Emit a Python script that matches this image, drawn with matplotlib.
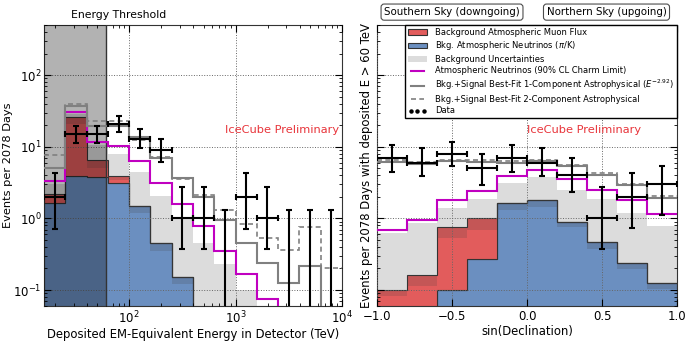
import numpy as np
import matplotlib
matplotlib.use('Agg')
from matplotlib import pyplot as plt
from matplotlib.patches import Patch
from matplotlib.lines import Line2D
import matplotlib.transforms as mtransforms

# ---- left panel: deposited energy, 0.2 decade bins from 10^1.2 to 10^4 TeV
log_edges = [1.2, 1.4, 1.6, 1.8, 2.0, 2.2, 2.4, 2.6, 2.8, 3.0, 3.2, 3.4, 3.6, 3.8, 4.0]
e_blue = [1.65, 3.9, 3.8, 3.1, 1.5, 0.45, 0.15, 0, 0, 0, 0, 0, 0, 0]
e_muon = [0.55, 21.8, 2.8, 0.8, 0, 0, 0, 0, 0, 0, 0, 0, 0, 0]
e_band_lo = [1.9, 21, 5.0, 3.4, 1.2, 0.35, 0.12, 0, 0, 0, 0, 0, 0, 0]
e_band_hi = [3.0, 29, 10.5, 8.0, 4.4, 2.05, 1.0, 0.46, 0.23, 0.1, 0, 0, 0, 0]
e_charm = [3.3, 31, 11.8, 10.1, 6.3, 3.1, 1.57, 0.78, 0.35, 0.17, 0.075, 0, 0, 0]
e_fit1 = [5.0, 37, 19.8, 19.6, 13.8, 7.0, 3.7, 2.0, 0.95, 0.46, 0.24, 0.127, 0.22, 0]
e_fit2 = [7.7, 40, 23, 23, 12.6, 7.2, 3.6, 2.15, 1.33, 0.83, 0.54, 0.36, 0.77, 0.2]
e_data = [2, 15, 15, 21, 13, 9, 1, 1, 0, 2, 1, 0, 0, 0]
e_data_lo = [0.72, 11.4, 11.4, 16.3, 9.5, 6.1, 0.37, 0.37, 0, 0.72, 0.37, 0, 0, 0]
e_data_hi = [4.3, 19.4, 19.4, 26.5, 17.5, 12.7, 2.75, 2.75, 1.29, 4.3, 2.75, 1.29, 1.29, 1.29]

# ---- right panel: sin(declination), 10 bins
s_edges = [-1.0, -0.8, -0.6, -0.4, -0.2, 0.0, 0.2, 0.4, 0.6, 0.8, 1.0]
s_blue = [0, 0, 0.1, 0.27, 1.62, 1.78, 0.89, 0.47, 0.24, 0.127]
s_muon = [0.1, 0.16, 0.66, 0.73, 0, 0, 0, 0, 0, 0]
s_band_lo = [0.083, 0.114, 0.54, 0.7, 1.33, 1.44, 0.76, 0.38, 0.195, 0.105]
s_band_hi = [0.62, 0.85, 1.38, 1.84, 3.15, 3.8, 2.5, 1.88, 1.2, 0.78]
s_charm = [0.7, 0.95, 1.82, 2.43, 3.9, 4.8, 3.5, 2.46, 1.8, 1.17]
s_fit1 = [6.2, 5.8, 6.3, 6.2, 6.0, 6.3, 5.4, 4.1, 2.9, 1.95]
s_fit2 = [6.5, 6.1, 6.6, 6.5, 6.3, 6.6, 5.6, 4.3, 3.0, 2.05]
s_data = [7, 6, 8, 5, 7, 6, 4, 1, 2, 3]
s_data_lo = [4.4, 3.85, 5.4, 2.9, 4.4, 3.85, 2.35, 0.37, 0.73, 1.1]
s_data_hi = [10.5, 9.5, 11.5, 8.0, 10.5, 9.5, 6.9, 2.75, 4.35, 5.4]

FLOOR = 1e-3
red_c = '#e25c5c'
blue_c = '#6b8fc0'
band_c = '#404040'
charm_c = '#c000c0'
fit_c = '0.5'
prelim_c = '#e8343a'

plt.rcParams['font.family'] = 'DejaVu Sans'
plt.rcParams['mathtext.fontset'] = 'dejavusans'

fig = plt.figure(figsize=(6.88, 3.43), dpi=100)
ax1 = fig.add_axes([0.064, 0.108, 0.433, 0.819])
ax2 = fig.add_axes([0.548, 0.108, 0.436, 0.819])


def fl(v):
    return np.maximum(np.asarray(v, dtype=float), FLOOR)


def draw_panel(ax, edges, blue, muon, blo, bhi, charm, fit1, fit2):
    blue = np.asarray(blue, float)
    top = blue + np.asarray(muon, float)
    ax.stairs(fl(blue), edges, baseline=FLOOR, fill=True, facecolor=blue_c,
              edgecolor='#333333', lw=0.8, zorder=1)
    ax.stairs(fl(top), edges, baseline=fl(blue), fill=True, facecolor=red_c,
              edgecolor='#333333', lw=0.8, zorder=1.1)
    ax.stairs(fl(bhi), edges, baseline=fl(blo), fill=True, facecolor=band_c,
              alpha=0.18, lw=0, zorder=2)
    ax.stairs(fl(charm), edges, baseline=None, color=charm_c, lw=1.5, zorder=4)
    ax.stairs(fl(fit1), edges, baseline=None, color=fit_c, lw=1.5, zorder=4)
    ax.stairs(fl(fit2), edges, baseline=None, color=fit_c, lw=1.2,
              ls=(0, (3, 2)), zorder=4.1)


def draw_data(ax, edges, n, lo, hi):
    edges = np.asarray(edges, float)
    for i in range(len(n)):
        a, b = edges[i], edges[i + 1]
        if ax.get_xscale() == 'log':
            c = np.sqrt(a * b)
        else:
            c = 0.5 * (a + b)
        if n[i] > 0:
            ax.errorbar(c, n[i], xerr=[[c - a], [b - c]],
                        yerr=[[n[i] - lo[i]], [hi[i] - n[i]]],
                        fmt='none', ecolor='k', elinewidth=1.5, capsize=2,
                        capthick=1.5, zorder=5)
        else:
            ax.errorbar(c, hi[i], yerr=[[hi[i] - FLOOR], [0]], fmt='none',
                        ecolor='k', elinewidth=1.5, capsize=2, capthick=1.5,
                        zorder=5)


# left panel
e_edges = 10 ** np.array(log_edges)
ax1.set_xscale('log')
ax1.set_yscale('log')
draw_panel(ax1, e_edges, e_blue, e_muon, e_band_lo, e_band_hi, e_charm, e_fit1, e_fit2)
draw_data(ax1, e_edges, e_data, e_data_lo, e_data_hi)
ax1.axvspan(e_edges[0], 60, facecolor='k', alpha=0.3, lw=0, zorder=3)
ax1.axvline(60, color='0.2', lw=1, zorder=3)
ax1.set_xlim(e_edges[0], e_edges[-1])
ax1.set_ylim(0.06, 500)
ax1.set_xlabel('Deposited EM-Equivalent Energy in Detector (TeV)', fontsize=8.4, labelpad=1)
ax1.set_ylabel('Events per 2078 Days', fontsize=8.2, labelpad=0)
trans1 = mtransforms.blended_transform_factory(ax1.transData, ax1.transAxes)
ax1.text(10 ** 1.9, 1.036, 'Energy Threshold', transform=trans1,
         ha='center', va='center', fontsize=7.8)
ax1.text(790, 17, 'IceCube Preliminary', color=prelim_c, fontsize=8.2,
         ha='left', va='center', zorder=6)

# right panel
ax2.set_yscale('log')
draw_panel(ax2, s_edges, s_blue, s_muon, s_band_lo, s_band_hi, s_charm, s_fit1, s_fit2)
draw_data(ax2, s_edges, s_data, s_data_lo, s_data_hi)
ax2.set_xlim(-1, 1)
ax2.set_ylim(0.06, 500)
ax2.set_xticks([-1.0, -0.5, 0.0, 0.5, 1.0])
ax2.set_xlabel('sin(Declination)', fontsize=8.4, labelpad=1)
ax2.set_ylabel('Events per 2078 Days with deposited E > 60 TeV', fontsize=8.4, labelpad=3)
ax2.tick_params(axis='y', which='both', labelleft=False)
ax2.text(0.0, 17, 'IceCube Preliminary', color=prelim_c, fontsize=8.2,
         ha='left', va='center', zorder=6)
trans2 = mtransforms.blended_transform_factory(ax2.transData, ax2.transAxes)
box = dict(boxstyle='round,pad=0.3', facecolor='white', edgecolor='0.3', lw=0.8)
ax2.text(-0.5, 1.046, 'Southern Sky (downgoing)', transform=trans2, ha='center',
         va='center', fontsize=7.4, bbox=box)
ax2.text(0.53, 1.046, 'Northern Sky (upgoing)', transform=trans2, ha='center',
         va='center', fontsize=7.4, bbox=box)

for ax in (ax1, ax2):
    ax.grid(True, which='major', ls=':', color='0.4', lw=0.7)
    ax.set_axisbelow(False)
    ax.tick_params(which='both', direction='in', top=True, right=True, labelsize=8.5, pad=3)
    ax.tick_params(which='major', length=5)
    ax.tick_params(which='minor', length=2.5)
    for sp in ax.spines.values():
        sp.set_color('0.2')
ax1.tick_params(axis='y', pad=2)

handles = [
    Patch(facecolor=red_c, edgecolor='#333333', lw=0.8),
    Patch(facecolor=blue_c, edgecolor='#333333', lw=0.8),
    Patch(facecolor=band_c, alpha=0.18, lw=0),
    Line2D([], [], color=charm_c, lw=1.5),
    Line2D([], [], color=fit_c, lw=1.5),
    Line2D([], [], color=fit_c, lw=1.2, ls=(0, (3, 2))),
    Line2D([], [], ls='none', marker='o', color='k', ms=2.2),
]
labels = [
    'Background Atmospheric Muon Flux',
    r'Bkg. Atmospheric Neutrinos ($\pi$/K)',
    'Background Uncertainties',
    'Atmospheric Neutrinos (90% CL Charm Limit)',
    r'Bkg.+Signal Best-Fit 1-Component Astrophysical ($E^{-2.92}$)',
    'Bkg.+Signal Best-Fit 2-Component Astrophysical',
    'Data',
]
leg = ax2.legend(handles, labels, loc='upper right', bbox_to_anchor=(1, 1), borderaxespad=0,
                 fontsize=6.0, numpoints=3, fancybox=False, framealpha=1, edgecolor='k',
                 handlelength=2.2, handleheight=0.6, labelspacing=0.3, borderpad=0.35,
                 handletextpad=1.0)
leg.get_frame().set_linewidth(1.0)
leg.set_zorder(10)

fig.savefig('out.png', dpi=100)
